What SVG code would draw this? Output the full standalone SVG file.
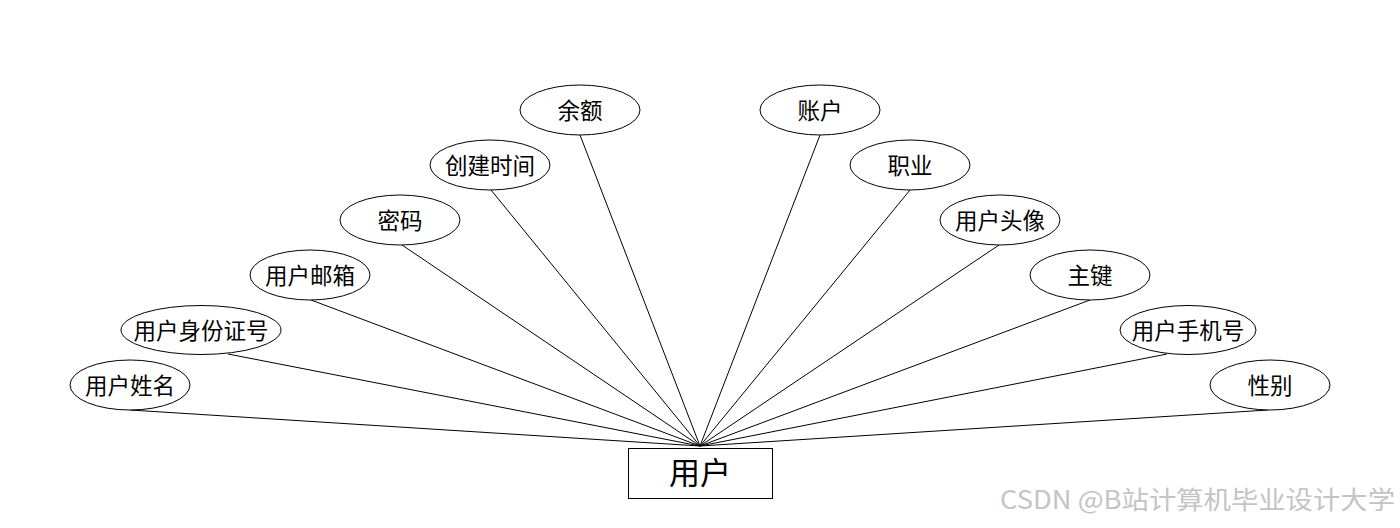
<svg xmlns="http://www.w3.org/2000/svg" width="1400" height="528" viewBox="0 0 1400 528">
<style>
.attr ellipse{fill:#fff;stroke:#000;stroke-width:1}
.attr text,.ent text{font-family:"Noto Sans CJK SC","Microsoft YaHei",sans-serif;fill:#000;text-anchor:middle;dominant-baseline:central}
.attr text{font-size:22.5px}
.ent text{font-size:31px}
.ent rect{fill:#fff;stroke:#000;stroke-width:1}
#edges line{stroke:#000;stroke-width:1}
.wm{font-family:"Noto Sans CJK SC",sans-serif;font-size:25px;fill:#c4c4c4}
</style>
<rect width="1400" height="528" fill="#fff"/>
<g id="edges">
<line x1="130" y1="410" x2="700" y2="446"/>
<line x1="228" y1="354" x2="700" y2="446"/>
<line x1="311" y1="300" x2="700" y2="446"/>
<line x1="402" y1="245" x2="700" y2="446"/>
<line x1="491" y1="190" x2="700" y2="446"/>
<line x1="580" y1="135" x2="700" y2="446"/>
<line x1="820" y1="135" x2="700" y2="446"/>
<line x1="910" y1="190" x2="700" y2="446"/>
<line x1="999" y1="245" x2="700" y2="446"/>
<line x1="1090" y1="300" x2="700" y2="446"/>
<line x1="1167" y1="354" x2="700" y2="446"/>
<line x1="1268" y1="410" x2="700" y2="446"/>
</g>
<g id="n-xingming" class="attr"><ellipse cx="130" cy="385" rx="60" ry="25"/><text x="130" y="384">用户姓名</text></g>
<g id="n-shenfenzheng" class="attr"><ellipse cx="201" cy="330" rx="80" ry="24.5"/><text x="201" y="329">用户身份证号</text></g>
<g id="n-youxiang" class="attr"><ellipse cx="310" cy="275" rx="60" ry="25"/><text x="310" y="274">用户邮箱</text></g>
<g id="n-mima" class="attr"><ellipse cx="400" cy="220" rx="60" ry="25"/><text x="400" y="219">密码</text></g>
<g id="n-chuangjian" class="attr"><ellipse cx="490" cy="165" rx="60" ry="25"/><text x="490" y="164">创建时间</text></g>
<g id="n-yue" class="attr"><ellipse cx="580" cy="110" rx="60" ry="25"/><text x="580" y="109">余额</text></g>
<g id="n-zhanghu" class="attr"><ellipse cx="820" cy="110" rx="60" ry="25"/><text x="820" y="109">账户</text></g>
<g id="n-zhiye" class="attr"><ellipse cx="910" cy="165" rx="60" ry="25"/><text x="910" y="164">职业</text></g>
<g id="n-touxiang" class="attr"><ellipse cx="1000" cy="220" rx="60" ry="25"/><text x="1000" y="219">用户头像</text></g>
<g id="n-zhujian" class="attr"><ellipse cx="1090" cy="275" rx="60" ry="25"/><text x="1090" y="274">主键</text></g>
<g id="n-shouji" class="attr"><ellipse cx="1188" cy="330" rx="68" ry="24.5"/><text x="1188" y="329">用户手机号</text></g>
<g id="n-xingbie" class="attr"><ellipse cx="1270" cy="385" rx="60" ry="25"/><text x="1270" y="384">性别</text></g>
<g id="n-yonghu" class="ent"><rect x="628.5" y="448.5" width="144" height="50"/><text x="700" y="470">用户</text></g>
<text class="wm" x="1000" y="509" textLength="395" lengthAdjust="spacingAndGlyphs">CSDN @B站计算机毕业设计大学</text>
</svg>
